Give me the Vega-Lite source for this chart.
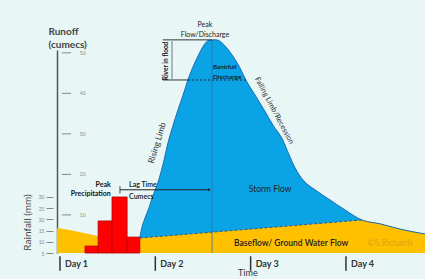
{
  "$schema": "https://vega.github.io/schema/vega-lite/v6.json",
  "autosize": {"type": "none"},
  "padding": {"left": 57, "top": 50, "right": 0, "bottom": 26},
  "width": 368,
  "height": 203,
  "background": "#e8f6f6",
  "config": {"view": {"stroke": null}, "font": "Lato"},
  "datasets": {
    "hydrograph": [
      {"t": 20.1, "q": 4.3}, {"t": 20.6, "q": 6.8}, {"t": 21.4, "q": 9.2}, {"t": 22.4, "q": 11.7},
      {"t": 23.4, "q": 14.7}, {"t": 24.7, "q": 18.1}, {"t": 25.9, "q": 22.3}, {"t": 27.2, "q": 27.8},
      {"t": 28.5, "q": 32.2}, {"t": 29.7, "q": 35.9}, {"t": 31.0, "q": 39.6}, {"t": 32.2, "q": 43.3},
      {"t": 33.7, "q": 47.0}, {"t": 35.0, "q": 49.7}, {"t": 36.3, "q": 52.0}, {"t": 37.5, "q": 53.1},
      {"t": 39.3, "q": 53.2}, {"t": 40.5, "q": 52.7}, {"t": 42.0, "q": 51.2}, {"t": 43.8, "q": 48.8},
      {"t": 45.3, "q": 46.3}, {"t": 46.8, "q": 43.3}, {"t": 49.1, "q": 39.6}, {"t": 51.4, "q": 35.9},
      {"t": 53.6, "q": 32.2}, {"t": 56.1, "q": 28.5}, {"t": 57.7, "q": 24.8}, {"t": 59.2, "q": 21.6},
      {"t": 61.2, "q": 18.6}, {"t": 64.2, "q": 16.2}, {"t": 68.0, "q": 13.7}, {"t": 71.8, "q": 11.2},
      {"t": 76.0, "q": 8.75}, {"t": 80.6, "q": 7.8}, {"t": 85.6, "q": 6.5}, {"t": 91.9, "q": 5.3}
    ],
    "baseflow": [
      {"t": -0.75, "q": 6.8}, {"t": 2.5, "q": 6.3}, {"t": 6.3, "q": 5.5}, {"t": 9.6, "q": 4.8},
      {"t": 15.1, "q": 4.4}, {"t": 20.1, "q": 4.3}, {"t": 76.0, "q": 8.75}, {"t": 80.6, "q": 7.8},
      {"t": 85.6, "q": 6.5}, {"t": 91.9, "q": 5.3}
    ],
    "rainfall": [
      {"t0": 6.3, "t1": 9.6, "mm": 8.1},
      {"t0": 9.6, "t1": 13.1, "mm": 19.3},
      {"t0": 13.1, "t1": 16.9, "mm": 30.0},
      {"t0": 16.9, "t1": 20.1, "mm": 12.1}
    ],
    "days": [
      {"t": 0, "day": "Day 1"}, {"t": 24, "day": "Day 2"}, {"t": 48, "day": "Day 3"}, {"t": 72, "day": "Day 4"}
    ],
    "runoffTicks": [{"q": 10}, {"q": 20}, {"q": 30}, {"q": 40}, {"q": 50}],
    "one": [{"label": "guide"}]
  },
  "layer": [
    {
      "data": {"name": "hydrograph"},
      "mark": {"type": "area", "interpolate": "monotone", "color": "#0aa4e6"},
      "encoding": {
        "x": {"field": "t", "type": "quantitative",
          "scale": {"domain": [-0.75, 91.9], "nice": false, "zero": false}, "axis": null},
        "y": {"field": "q", "type": "quantitative",
          "scale": {"domain": [0.6, 50.7], "nice": false, "zero": false},
          "axis": {"orient": "left", "grid": false, "ticks": false, "labels": false,
            "domainColor": "#555", "domainWidth": 1.5,
            "title": ["Runoff", "(cumecs)"], "titleAngle": 0, "titleX": -9, "titleY": -16,
            "titleAlign": "left", "titleBaseline": "alphabetic", "titleFontSize": 10,
            "titleFontWeight": "bold", "titleColor": "#444", "titleLineHeight": 13, "titleFont": "Lato"}},
        "y2": {"datum": 0.6}
      }
    },
    {
      "data": {"name": "baseflow"},
      "mark": {"type": "area", "color": "#ffc000"},
      "encoding": {
        "x": {"field": "t", "type": "quantitative", "axis": null},
        "y": {"field": "q", "type": "quantitative", "axis": null, "scale": {"domain": [0.6, 50.7], "nice": false, "zero": false}},
        "y2": {"datum": 0.6}
      }
    },
    {
      "data": {"name": "one"},
      "mark": {"type": "rule", "color": "#2a6f9e", "strokeWidth": 0.7},
      "encoding": {
        "x": {"datum": 38.3, "type": "quantitative", "axis": null},
        "y": {"datum": 0.6, "type": "quantitative", "axis": null, "scale": {"domain": [0.6, 50.7], "nice": false, "zero": false}},
        "y2": {"datum": 53.2}
      }
    },
    {
      "data": {"name": "baseflow"},
      "transform": [{"filter": "datum.t >= 20 && datum.t <= 76.1"}],
      "mark": {"type": "line", "color": "#1e5e9c", "strokeWidth": 1, "strokeDash": [3, 2]},
      "encoding": {
        "x": {"field": "t", "type": "quantitative", "axis": null},
        "y": {"field": "q", "type": "quantitative", "axis": null, "scale": {"domain": [0.6, 50.7], "nice": false, "zero": false}}
      }
    },
    {
      "data": {"name": "hydrograph"},
      "mark": {"type": "line", "interpolate": "monotone", "color": "#1d6bb0", "strokeWidth": 1},
      "encoding": {
        "x": {"field": "t", "type": "quantitative", "axis": null},
        "y": {"field": "q", "type": "quantitative", "axis": null, "scale": {"domain": [0.6, 50.7], "nice": false, "zero": false}}
      }
    },
    {
      "data": {"name": "rainfall"},
      "mark": {"type": "bar", "color": "#ff0000", "stroke": "#b40000", "strokeWidth": 0.8},
      "encoding": {
        "x": {"field": "t0", "type": "quantitative", "axis": null},
        "x2": {"field": "t1"},
        "y": {"field": "mm", "type": "quantitative",
          "scale": {"domain": [5, 95.6], "nice": false, "zero": false},
          "axis": {"orient": "left", "offset": 4, "values": [5, 10, 15, 20, 25, 30], "domain": false, "grid": false,
            "tickSize": 7, "tickColor": "#888", "tickWidth": 1,
            "labelPadding": 2, "labelFontSize": 5, "labelColor": "#888", "labelBaseline": "middle",
            "title": "Rainfall (mm)", "titleFontSize": 10, "titleColor": "#444", "titleFontWeight": "normal",
            "titleAngle": -90, "titleX": -26, "titleY": 172, "titleAlign": "center", "titleBaseline": "middle", "titleFont": "Lato"}},
        "y2": {"datum": 5}
      }
    },
    {
      "data": {"name": "runoffTicks"},
      "mark": {"type": "rule", "color": "#888", "strokeWidth": 1},
      "encoding": {
        "x": {"datum": 0.5, "type": "quantitative", "axis": null},
        "x2": {"datum": 2.8},
        "y": {"field": "q", "type": "quantitative", "axis": null, "scale": {"domain": [0.6, 50.7], "nice": false, "zero": false}}
      }
    },
    {
      "data": {"name": "runoffTicks"},
      "mark": {"type": "text", "color": "#888", "fontSize": 5, "align": "left", "baseline": "middle"},
      "encoding": {
        "x": {"datum": 5.0, "type": "quantitative", "axis": null},
        "y": {"field": "q", "type": "quantitative", "axis": null, "scale": {"domain": [0.6, 50.7], "nice": false, "zero": false}},
        "text": {"field": "q"}
      }
    },
    {
      "data": {"name": "days"},
      "mark": {"type": "rule", "color": "#333", "strokeWidth": 1.5},
      "encoding": {
        "x": {"field": "t", "type": "quantitative", "axis": null},
        "y": {"datum": -0.2, "type": "quantitative", "axis": null, "scale": {"domain": [0.6, 50.7], "nice": false, "zero": false}},
        "y2": {"datum": -3.8}
      }
    },
    {
      "data": {"name": "days"},
      "mark": {"type": "text", "color": "#333", "fontSize": 9, "fontWeight": "bold", "align": "left", "baseline": "middle", "dx": 5},
      "encoding": {
        "x": {"field": "t", "type": "quantitative", "axis": null},
        "y": {"datum": -2.1, "type": "quantitative", "axis": null, "scale": {"domain": [0.6, 50.7], "nice": false, "zero": false}},
        "text": {"field": "day"}
      }
    },
    {
      "data": {"values": [{"label": "Time"}]},
      "mark": {"type": "text", "color": "#333", "fontSize": 9, "align": "center", "baseline": "middle"},
      "encoding": {
        "x": {"datum": 47.3, "type": "quantitative", "axis": null},
        "y": {"datum": -4.3, "type": "quantitative", "axis": null, "scale": {"domain": [0.6, 50.7], "nice": false, "zero": false}},
        "text": {"field": "label"}
      }
    },
    {
      "data": {"name": "one"},
      "mark": {"type": "rule", "color": "#222", "strokeWidth": 1.2, "strokeDash": [2, 2]},
      "encoding": {
        "x": {"datum": 32.2, "type": "quantitative", "axis": null},
        "x2": {"datum": 47.1},
        "y": {"datum": 43.3, "type": "quantitative", "axis": null, "scale": {"domain": [0.6, 50.7], "nice": false, "zero": false}}
      }
    },
    {
      "data": {"name": "one"},
      "mark": {"type": "rule", "color": "#333", "strokeWidth": 1},
      "encoding": {
        "x": {"datum": 25.9, "type": "quantitative", "axis": null},
        "x2": {"datum": 32.2},
        "y": {"datum": 43.3, "type": "quantitative", "axis": null, "scale": {"domain": [0.6, 50.7], "nice": false, "zero": false}}
      }
    },
    {
      "data": {"name": "one"},
      "mark": {"type": "rule", "color": "#333", "strokeWidth": 1},
      "encoding": {
        "x": {"datum": 25.9, "type": "quantitative", "axis": null},
        "x2": {"datum": 38.3},
        "y": {"datum": 53.2, "type": "quantitative", "axis": null, "scale": {"domain": [0.6, 50.7], "nice": false, "zero": false}}
      }
    },
    {
      "data": {"name": "one"},
      "mark": {"type": "rule", "color": "#555", "strokeWidth": 0.8},
      "encoding": {
        "x": {"datum": 28.2, "type": "quantitative", "axis": null},
        "y": {"datum": 43.6, "type": "quantitative", "axis": null, "scale": {"domain": [0.6, 50.7], "nice": false, "zero": false}},
        "y2": {"datum": 52.9}
      }
    },
    {
      "data": {"name": "one"},
      "mark": {"type": "rule", "color": "#222", "strokeWidth": 1},
      "encoding": {
        "x": {"datum": 15.1, "type": "quantitative", "axis": null},
        "x2": {"datum": 37.6},
        "y": {"datum": 16.2, "type": "quantitative", "axis": null, "scale": {"domain": [0.6, 50.7], "nice": false, "zero": false}}
      }
    },
    {
      "data": {"name": "one"},
      "mark": {"type": "rule", "color": "#222", "strokeWidth": 0.8},
      "encoding": {
        "x": {"datum": 15.1, "type": "quantitative", "axis": null},
        "y": {"datum": 15.3, "type": "quantitative", "axis": null, "scale": {"domain": [0.6, 50.7], "nice": false, "zero": false}},
        "y2": {"datum": 17.1}
      }
    },
    {
      "data": {"name": "one"},
      "mark": {"type": "point", "shape": "triangle-right", "filled": true, "color": "#222", "size": 10, "opacity": 1},
      "encoding": {
        "x": {"datum": 37.6, "type": "quantitative", "axis": null},
        "y": {"datum": 16.2, "type": "quantitative", "axis": null, "scale": {"domain": [0.6, 50.7], "nice": false, "zero": false}}
      }
    },
    {
      "data": {"values": [{"label": ["Peak", "Flow/Discharge"]}]},
      "mark": {"type": "text", "fontSize": 7, "color": "#222", "align": "center", "baseline": "middle", "lineHeight": 10},
      "encoding": {
        "x": {"datum": 36.5, "type": "quantitative", "axis": null},
        "y": {"datum": 56.9, "type": "quantitative", "axis": null, "scale": {"domain": [0.6, 50.7], "nice": false, "zero": false}},
        "text": {"field": "label"}
      }
    },
    {
      "data": {"values": [{"label": "River in flood"}]},
      "mark": {"type": "text", "fontSize": 6.5, "fontWeight": "bold", "color": "#111", "align": "center", "baseline": "middle", "angle": -90},
      "encoding": {
        "x": {"datum": 26.7, "type": "quantitative", "axis": null},
        "y": {"datum": 48.0, "type": "quantitative", "axis": null, "scale": {"domain": [0.6, 50.7], "nice": false, "zero": false}},
        "text": {"field": "label"}
      }
    },
    {
      "data": {"values": [{"label": ["Bankfull", "Discharge"]}]},
      "mark": {"type": "text", "fontSize": 6.5, "fontWeight": 600, "color": "#111", "align": "left", "baseline": "middle", "lineHeight": 9.5},
      "encoding": {
        "x": {"datum": 38.5, "type": "quantitative", "axis": null},
        "y": {"datum": 46.5, "type": "quantitative", "axis": null, "scale": {"domain": [0.6, 50.7], "nice": false, "zero": false}},
        "text": {"field": "label"}
      }
    },
    {
      "data": {"values": [{"label": "Falling Limb/Recession"}]},
      "mark": {"type": "text", "fontSize": 7.5, "color": "#333", "align": "center", "baseline": "middle", "angle": 62},
      "encoding": {
        "x": {"datum": 53.9, "type": "quantitative", "axis": null},
        "y": {"datum": 35.7, "type": "quantitative", "axis": null, "scale": {"domain": [0.6, 50.7], "nice": false, "zero": false}},
        "text": {"field": "label"}
      }
    },
    {
      "data": {"values": [{"label": "Rising Limb"}]},
      "mark": {"type": "text", "fontSize": 8.5, "color": "#333", "align": "center", "baseline": "middle", "angle": -73},
      "encoding": {
        "x": {"datum": 24.4, "type": "quantitative", "axis": null},
        "y": {"datum": 27.8, "type": "quantitative", "axis": null, "scale": {"domain": [0.6, 50.7], "nice": false, "zero": false}},
        "text": {"field": "label"}
      }
    },
    {
      "data": {"values": [{"label": "Storm Flow"}]},
      "mark": {"type": "text", "fontSize": 8.5, "color": "#222", "align": "center", "baseline": "middle"},
      "encoding": {
        "x": {"datum": 52.9, "type": "quantitative", "axis": null},
        "y": {"datum": 16.4, "type": "quantitative", "axis": null, "scale": {"domain": [0.6, 50.7], "nice": false, "zero": false}},
        "text": {"field": "label"}
      }
    },
    {
      "data": {"values": [{"label": "Baseflow/ Ground Water Flow"}]},
      "mark": {"type": "text", "fontSize": 8.5, "fontWeight": 600, "color": "#222", "align": "center", "baseline": "middle"},
      "encoding": {
        "x": {"datum": 58.2, "type": "quantitative", "axis": null},
        "y": {"datum": 3.07, "type": "quantitative", "axis": null, "scale": {"domain": [0.6, 50.7], "nice": false, "zero": false}},
        "text": {"field": "label"}
      }
    },
    {
      "data": {"values": [{"label": "©S.Richards"}]},
      "mark": {"type": "text", "fontSize": 8.5, "color": "#dba514", "align": "left", "baseline": "middle"},
      "encoding": {
        "x": {"datum": 77.5, "type": "quantitative", "axis": null},
        "y": {"datum": 3.07, "type": "quantitative", "axis": null, "scale": {"domain": [0.6, 50.7], "nice": false, "zero": false}},
        "text": {"field": "label"}
      }
    },
    {
      "data": {"values": [{"label": ["Peak", "Precipitation"]}]},
      "mark": {"type": "text", "fontSize": 7, "fontWeight": "bold", "color": "#111", "align": "right", "baseline": "middle", "lineHeight": 9},
      "encoding": {
        "x": {"datum": 12.8, "type": "quantitative", "axis": null},
        "y": {"datum": 17.4, "type": "quantitative", "axis": null, "scale": {"domain": [0.6, 50.7], "nice": false, "zero": false}},
        "text": {"field": "label"}
      }
    },
    {
      "data": {"values": [{"label": ["Lag Time", "Cumecs"]}]},
      "mark": {"type": "text", "fontSize": 7, "fontWeight": 600, "color": "#111", "align": "left", "baseline": "middle", "lineHeight": 12},
      "encoding": {
        "x": {"datum": 17.4, "type": "quantitative", "axis": null},
        "y": {"datum": 17.4, "type": "quantitative", "axis": null, "scale": {"domain": [0.6, 50.7], "nice": false, "zero": false}},
        "text": {"field": "label"}
      }
    }
  ],
  "resolve": {"scale": {"y": "independent"}}
}
